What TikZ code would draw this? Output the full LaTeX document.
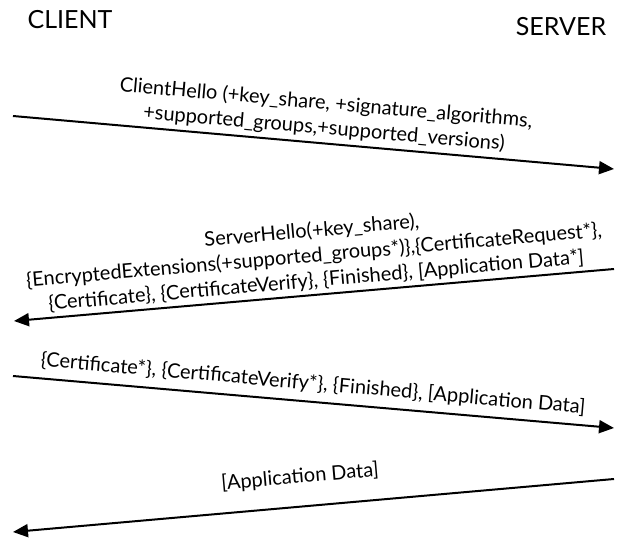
\documentclass[tikz,border=0pt]{standalone}
\usepackage{fontspec}
\setmainfont{Lato}
\usetikzlibrary{arrows.meta}
\begin{document}
\begin{tikzpicture}[x=1pt,y=-1pt,
  msg/.style={line width=2pt,-{Triangle[length=15pt,width=13pt]}},
  lbl/.style={font=\fontsize{20}{25}\selectfont,align=center,inner sep=0pt},
  party/.style={font=\fontsize{25}{30}\selectfont,inner sep=0pt}]
\useasboundingbox (0,0) rectangle (619,540);
\node[party] (client) at (70,20) {CLIENT};
\node[party] (server) at (561,27) {SERVER};
\coordinate (c1) at (13,116); \coordinate (s1) at (614,169);
\coordinate (s2) at (614,269); \coordinate (c2) at (14,321);
\coordinate (c3) at (13,376); \coordinate (s3) at (614,428);
\coordinate (s4) at (614,479); \coordinate (c4) at (13,532);
\draw[msg] (c1) -- (s1);
\draw[msg] (s2) -- (c2);
\draw[msg] (c3) -- (s3);
\draw[msg] (s4) -- (c4);
\node[lbl,rotate=-5] (l1) at (325,116) {ClientHello (+key\_share, +signature\_algorithms,\\+supported\_groups,+supported\_versions)};
\node[lbl,rotate=5] (l2) at (314,256) {ServerHello(+key\_share),\\\{EncryptedExtensions(+supported\_groups*)\},\{CertificateRequest*\},\\\{Certificate\}, \{CertificateVerify\}, \{Finished\}, [Application Data*]};
\node[lbl,rotate=-5] (l3) at (313,384) {\{Certificate*\}, \{CertificateVerify*\}, \{Finished\}, [Application Data]};
\node[lbl,rotate=5] (l4) at (300,477) {[Application Data]};
\end{tikzpicture}
\end{document}
